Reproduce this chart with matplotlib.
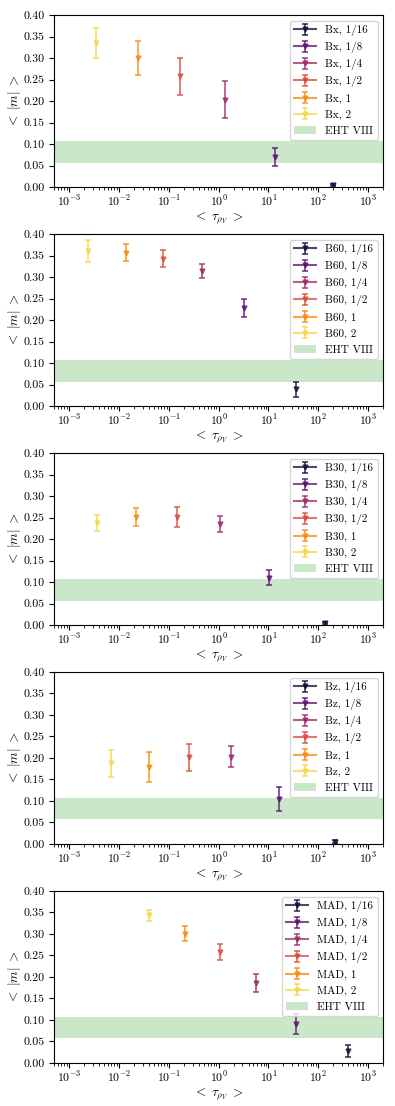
import numpy as np
import matplotlib
matplotlib.use("Agg")
import matplotlib.pyplot as plt

plt.rcParams['font.family'] = 'serif'
plt.rcParams['font.serif'] = ['cmr10', 'DejaVu Serif']
plt.rcParams['mathtext.fontset'] = 'cm'
plt.rcParams['axes.formatter.use_mathtext'] = True
plt.rcParams['font.size'] = 8

# ---- data ----
models = ["Bx", "B60", "B30", "Bz", "MAD"]
rhigh_labels = ["1/16", "1/8", "1/4", "1/2", "1", "2"]

# <tau_rhoV> per model, ordered 1/16 ... 2
tau_Bx = [198, 13.8, 1.36, 0.17, 0.024, 3.5e-3]
tau_B60 = [35, 3.3, 0.46, 0.078, 0.0138, 2.4e-3]
tau_B30 = [134, 10.2, 1.08, 0.145, 0.022, 3.7e-3]
tau_Bz = [217, 16.2, 1.77, 0.25, 0.040, 6.8e-3]
tau_MAD = [395, 35, 5.5, 1.05, 0.207, 0.040]

# <|m|> and error
m_Bx = [0.005, 0.070, 0.203, 0.258, 0.300, 0.336]
e_Bx = [0.003, 0.020, 0.043, 0.043, 0.040, 0.035]
m_B60 = [0.039, 0.227, 0.314, 0.343, 0.357, 0.360]
e_B60 = [0.017, 0.021, 0.017, 0.019, 0.020, 0.025]
m_B30 = [0.005, 0.110, 0.235, 0.252, 0.251, 0.237]
e_B30 = [0.003, 0.017, 0.019, 0.023, 0.020, 0.018]
m_Bz = [0.0055, 0.104, 0.203, 0.2015, 0.180, 0.1875]
e_Bz = [0.003, 0.028, 0.025, 0.031, 0.035, 0.031]
m_MAD = [0.027, 0.091, 0.186, 0.258, 0.301, 0.343]
e_MAD = [0.014, 0.024, 0.021, 0.019, 0.017, 0.013]

taus = [tau_Bx, tau_B60, tau_B30, tau_Bz, tau_MAD]
ms = [m_Bx, m_B60, m_B30, m_Bz, m_MAD]
errs = [e_Bx, e_B60, e_B30, e_Bz, e_MAD]

eht_low, eht_high = 0.057, 0.107

colors = plt.cm.inferno(np.linspace(0.1, 0.9, 6))

fig, axes = plt.subplots(5, 1, figsize=(3.95, 11.06), dpi=100)
fig.subplots_adjust(left=0.137, right=0.970, top=0.9864, bottom=0.0389, hspace=0.273)

yt = np.arange(0, 0.401, 0.05)
for ax, name, tau, m, err in zip(axes, models, taus, ms, errs):
    handles = []
    for i, lab in enumerate(rhigh_labels):
        h = ax.errorbar([tau[i]], [m[i]], yerr=[err[i]], fmt='v-', ms=3.5,
                        color=colors[i], capsize=2.5, elinewidth=1.3, capthick=1.3,
                        alpha=0.75, label=f"{name}, {lab}")
        handles.append(h)
    band = ax.axhspan(eht_low, eht_high, color='tab:green', alpha=0.25, lw=0, label='EHT VIII')
    handles.append(band)
    ax.set_xscale('log')
    ax.set_xlim(5e-4, 2e3)
    ax.set_ylim(0, 0.4)
    ax.set_yticks(yt)
    ax.set_yticklabels([f"{v:.2f}" for v in yt])
    ax.set_xticks([1e-3, 1e-2, 1e-1, 1, 10, 100, 1000])
    ax.tick_params(axis='x', which='major', pad=1.5)
    ax.tick_params(labelsize=8.5)
    ax.set_xlabel(r'$<\;\tau_{\rho_V}\;>$', fontsize=9.5, labelpad=1)
    ax.set_ylabel(r'$<\;|m|\;>$', fontsize=9.5)
    ax.yaxis.set_label_coords(-0.094, 0.5)
    ax.legend(handles=handles, loc='upper right', fontsize=8, labelspacing=0.55)

fig.savefig("out.png", dpi=100)
